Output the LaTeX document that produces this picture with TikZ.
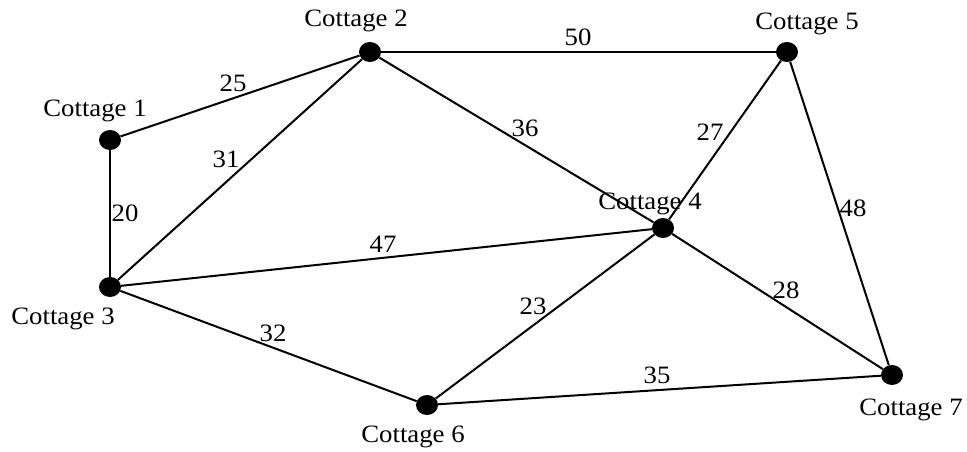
\documentclass[tikz,border=0pt]{standalone}
\usepackage{fontspec}
\setmainfont{Liberation Serif}
\usetikzlibrary{shapes.geometric}
\begin{document}
\begin{tikzpicture}[x=1pt,y=-1pt,
  dot/.style={ellipse,fill=black,inner sep=0pt,minimum width=22pt,minimum height=20pt},
  edge/.style={line width=2pt},
  lab/.style={font=\fontsize{25}{29}\selectfont,inner sep=0pt,xscale=1.07}]
\useasboundingbox (0,0) rectangle (967,452);
\fill[white] (0,0) rectangle (967,452);
% cottages
\node[dot] (c1) at (110,140) {};
\node[dot] (c2) at (370,52) {};
\node[dot] (c3) at (110,287) {};
\node[dot] (c4) at (663,228) {};
\node[dot] (c5) at (787,52) {};
\node[dot] (c6) at (427,405) {};
\node[dot] (c7) at (892,375) {};
% edges
\draw[edge] (c1) -- (c2);
\draw[edge] (c1) -- (c3);
\draw[edge] (c2) -- (c3);
\draw[edge] (c2) -- (c5);
\draw[edge] (c2) -- (c4);
\draw[edge] (c5) -- (c4);
\draw[edge] (c5) -- (c7);
\draw[edge] (c3) -- (c4);
\draw[edge] (c3) -- (c6);
\draw[edge] (c4) -- (c6);
\draw[edge] (c4) -- (c7);
\draw[edge] (c6) -- (c7);
% cottage names
\node[lab] (n1) at (95,111) {Cottage 1};
\node[lab] (n2) at (356,21) {Cottage 2};
\node[lab] (n3) at (63,319) {Cottage 3};
\node[lab] (n4) at (650,204) {Cottage 4};
\node[lab] (n5) at (807,24) {Cottage 5};
\node[lab] (n6) at (413,437) {Cottage 6};
\node[lab] (n7) at (911,410) {Cottage 7};
% weights
\node[lab] (w25) at (233,83) {25};
\node[lab] (w31) at (226,159) {31};
\node[lab] (w20) at (125,213) {20};
\node[lab] (w50) at (578,37) {50};
\node[lab] (w36) at (525,128) {36};
\node[lab] (w27) at (710,132) {27};
\node[lab] (w48) at (853,208) {48};
\node[lab] (w47) at (383,244) {47};
\node[lab] (w32) at (273,333) {32};
\node[lab] (w23) at (533,306) {23};
\node[lab] (w28) at (786,290) {28};
\node[lab] (w35) at (657,375) {35};
\end{tikzpicture}
\end{document}
